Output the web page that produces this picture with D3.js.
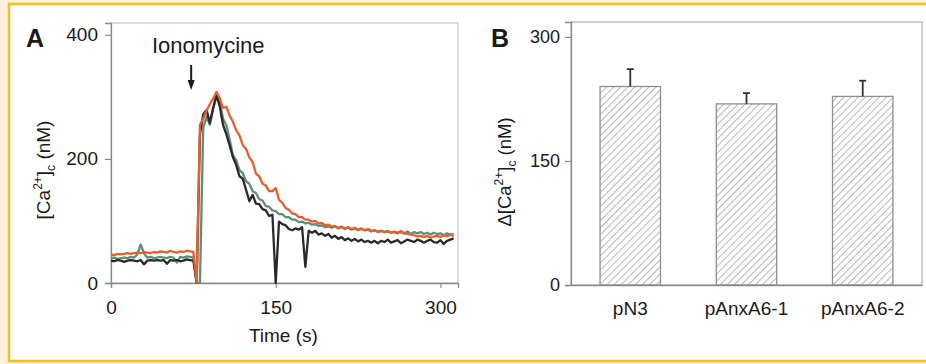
<!DOCTYPE html>
<html>
<head>
<meta charset="utf-8">
<script src="https://cdn.jsdelivr.net/npm/d3@7"></script>
<style>
  html, body { margin: 0; padding: 0; background: #fdf1d8; }
  svg { display: block; }
  text { font-family: "Liberation Sans", Arial, sans-serif; fill: #1a1a1a; }
</style>
</head>
<body>
<svg id="chart" width="926" height="364"></svg>
<script>
// ---- Panel A data: time course (s) and [Ca2+]c (nM) ----
const times = d3.range(0, 313, 3);
const seriesBlack = [36,35,37,36,34,36,37,36,35,37,30,36,37,36,37,36,37,31,37,36,37,35,36,38,37,36,
  0,240,272,279,258,282,303,285,255,240,222,203,190,172,168,150,132,142,128,127,119,117,108,110,
  0,99,95,93,87,85,88,86,90,26,84,81,84,78,80,76,79,73,76,71,74,69,72,68,71,67,70,66,68,65,68,64,68,66,70,65,67,69,64,67,70,68,66,70,68,65,68,70,66,65,69,63,68,70,72];
const seriesGreen = [40,41,39,40,41,40,42,41,46,62,48,41,42,40,41,42,41,40,42,41,33,42,41,43,42,41,
  0,0,250,268,255,280,300,292,265,254,232,206,198,182,177,164,160,148,145,135,133,124,123,117,
  116,111,111,106,106,102,102,98,99,96,97,94,95,92,93,90,91,89,91,88,90,87,89,86,88,85,87,85,86,83,85,82,84,82,84,81,83,81,82,80,83,79,82,80,82,79,81,78,81,79,80,77,80,78,79];
const seriesOrange = [46,45,47,46,47,48,47,48,49,48,50,49,48,50,49,51,50,49,52,50,49,51,50,52,51,50,
  0,255,265,278,288,297,308,298,282,284,270,260,246,238,222,216,202,195,176,172,160,157,148,148,
  153,134,129,121,118,112,111,106,106,102,102,99,100,96,97,93,94,91,92,89,91,88,90,87,89,86,88,85,87,84,85,83,84,82,83,81,82,80,84,80,79,78,77,75,76,74,76,73,75,76,74,77,75,78,76];
const xTicksA = [0, 150, 300];
const yTicksA = [0, 200, 400];

// ---- Panel B data ----
const categories = ["pN3", "pAnxA6-1", "pAnxA6-2"];
const means = [240, 219, 228];
const errors = [21, 13, 19];
const yTicksB = [0, 150, 300];

const svg = d3.select("#chart");

// page frame
svg.append("rect").attr("x", 9).attr("y", 4).attr("width", 930).attr("height", 357)
  .attr("fill", "#ffffff").attr("stroke", "#f1c02e").attr("stroke-width", 2.6);

const defs = svg.append("defs");
const pat = defs.append("pattern").attr("id", "hatch").attr("patternUnits", "userSpaceOnUse")
  .attr("width", 5).attr("height", 5).attr("patternTransform", "rotate(45)");
pat.append("rect").attr("width", 5).attr("height", 5).attr("fill", "#ffffff");
pat.append("line").attr("x1", 0).attr("y1", 0).attr("x2", 0).attr("y2", 5)
  .attr("stroke", "#9a9a9a").attr("stroke-width", 1.4);

// ================= Panel A =================
const xA = d3.scaleLinear().domain([0, 316]).range([111, 458]);
const yA = d3.scaleLinear().domain([0, 419]).range([283, 23]);

defs.append("clipPath").attr("id", "clipA").append("rect")
  .attr("x", 111).attr("y", 23).attr("width", 347).attr("height", 261);

svg.append("rect").attr("x", 111).attr("y", 23).attr("width", 347).attr("height", 260)
  .attr("fill", "none").attr("stroke", "#c4c4c4").attr("stroke-width", 1.2);

const gAx = svg.append("g").attr("transform", "translate(0,283)")
  .call(d3.axisBottom(xA).tickValues(xTicksA).tickSize(5).tickPadding(13));
const gAy = svg.append("g").attr("transform", "translate(111,0)")
  .call(d3.axisLeft(yA).tickValues(yTicksA).tickSize(6).tickPadding(7));
[gAx, gAy].forEach(g => {
  g.select(".domain").attr("stroke", "#8a8a8a").attr("stroke-width", 1.3);
  g.selectAll(".tick line").attr("stroke", "#8a8a8a").attr("stroke-width", 1.2);
  g.selectAll(".tick text").attr("font-size", 19).attr("fill", "#1a1a1a")
    .attr("font-family", "Liberation Sans, Arial, sans-serif");
});

const line = d3.line().x((d, i) => xA(times[i])).y(d => yA(d));
const linesG = svg.append("g").attr("clip-path", "url(#clipA)");
[[seriesGreen, "#5f8f78"], [seriesBlack, "#2a2a2a"], [seriesOrange, "#e6602e"]].forEach(([s, c]) => {
  linesG.append("path").datum(s).attr("d", line).attr("fill", "none")
    .attr("stroke", c).attr("stroke-width", 2.3).attr("stroke-linejoin", "round");
});

// labels A
svg.append("text").attr("x", 26).attr("y", 47).attr("font-size", 25).attr("font-weight", "bold").text("A");
svg.append("text").attr("x", 152).attr("y", 53).attr("font-size", 22).text("Ionomycine");
// arrow
svg.append("line").attr("x1", xA(73)).attr("x2", xA(73)).attr("y1", 65).attr("y2", 82)
  .attr("stroke", "#1a1a1a").attr("stroke-width", 2);
svg.append("path").attr("d", d3.line()([[xA(73) - 3.5, 80], [xA(73) + 3.5, 80], [xA(73), 90]]))
  .attr("fill", "#1a1a1a");

svg.append("text").attr("x", xA(157)).attr("y", 342).attr("text-anchor", "middle")
  .attr("font-size", 19).text("Time (s)");

const yLabA = svg.append("text").attr("transform", "translate(50,170) rotate(-90)")
  .attr("text-anchor", "middle").attr("font-size", 19);
yLabA.append("tspan").text("[Ca");
yLabA.append("tspan").attr("font-size", 12).attr("dy", -8).text("2+");
yLabA.append("tspan").attr("dy", 8).text("]");
yLabA.append("tspan").attr("font-size", 12).attr("dy", 5).text("c");
yLabA.append("tspan").attr("dy", -5).text(" (nM)");

// ================= Panel B =================
const xB = d3.scaleBand().domain(categories).range([571, 922]).paddingInner(0.48).paddingOuter(0.25);
const yB = d3.scaleLinear().domain([0, 318]).range([285, 22]);

svg.append("rect").attr("x", 571).attr("y", 22).attr("width", 351).attr("height", 263)
  .attr("fill", "none").attr("stroke", "#b5b5b5").attr("stroke-width", 1.3);

svg.selectAll(".bar").data(categories).enter().append("rect")
  .attr("x", d => xB(d)).attr("width", xB.bandwidth())
  .attr("y", (d, i) => yB(means[i])).attr("height", (d, i) => yB(0) - yB(means[i]))
  .attr("fill", "url(#hatch)").attr("stroke", "#8e8e8e").attr("stroke-width", 1.3);

const eb = svg.selectAll(".err").data(categories).enter().append("g");
eb.append("line").attr("x1", d => xB(d) + xB.bandwidth() / 2).attr("x2", d => xB(d) + xB.bandwidth() / 2)
  .attr("y1", (d, i) => yB(means[i])).attr("y2", (d, i) => yB(means[i] + errors[i]))
  .attr("stroke", "#333").attr("stroke-width", 1.8);
eb.append("line").attr("x1", d => xB(d) + xB.bandwidth() / 2 - 3.5).attr("x2", d => xB(d) + xB.bandwidth() / 2 + 3.5)
  .attr("y1", (d, i) => yB(means[i] + errors[i])).attr("y2", (d, i) => yB(means[i] + errors[i]))
  .attr("stroke", "#333").attr("stroke-width", 1.8);

const gBx = svg.append("g").attr("transform", "translate(0,285)")
  .call(d3.axisBottom(xB).tickSize(0).tickPadding(17));
const gBy = svg.append("g").attr("transform", "translate(571,0)")
  .call(d3.axisLeft(yB).tickValues(yTicksB).tickSize(6).tickPadding(5));
[gBx, gBy].forEach(g => {
  g.select(".domain").attr("stroke", "#8a8a8a").attr("stroke-width", 1.3);
  g.selectAll(".tick line").attr("stroke", "#8a8a8a").attr("stroke-width", 1.2);
  g.selectAll(".tick text").attr("font-size", 18).attr("fill", "#1a1a1a")
    .attr("font-family", "Liberation Sans, Arial, sans-serif");
});
gBx.selectAll(".tick text").attr("font-size", 19);

svg.append("text").attr("x", 491).attr("y", 47).attr("font-size", 25).attr("font-weight", "bold").text("B");

const yLabB = svg.append("text").attr("transform", "translate(511,172) rotate(-90)")
  .attr("text-anchor", "middle").attr("font-size", 18.5);
yLabB.append("tspan").text("\u0394[Ca");
yLabB.append("tspan").attr("font-size", 12).attr("dy", -8).text("2+");
yLabB.append("tspan").attr("dy", 8).text("]");
yLabB.append("tspan").attr("font-size", 12).attr("dy", 5).text("c");
yLabB.append("tspan").attr("dy", -5).text(" (nM)");
</script>
</body>
</html>
